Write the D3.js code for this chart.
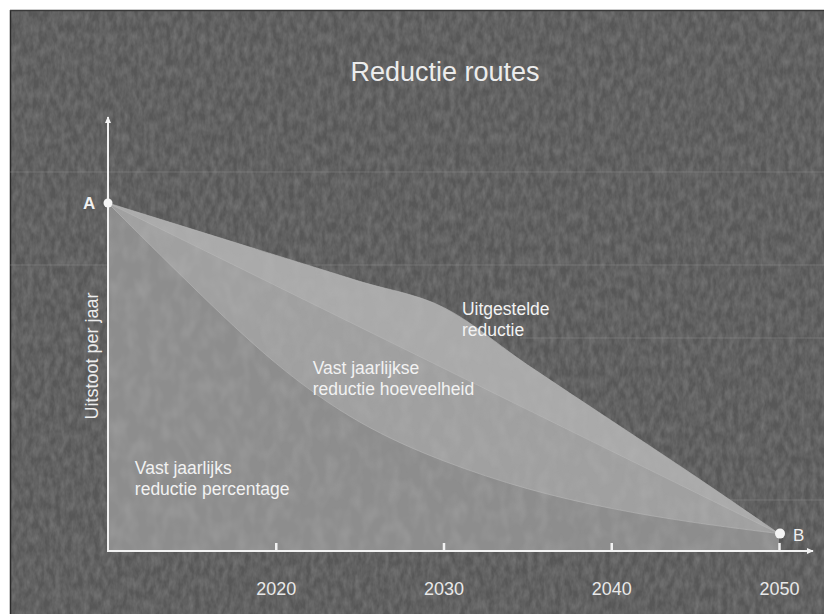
<!DOCTYPE html>
<html>
<head>
<meta charset="utf-8">
<script src="https://cdn.jsdelivr.net/npm/d3@7"></script>
<style>
  html, body { margin: 0; padding: 0; background: #ffffff; }
  svg { display: block; }
</style>
</head>
<body>
<svg id="chart" width="824" height="614"></svg>
<script>
// Emission reduction routes from point A (start) to point B (2050)
const title = "Reductie routes";
const yLabel = "Uitstoot per jaar";
const tickYears = [2020, 2030, 2040, 2050];

const years = [2010, 2015, 2020, 2025, 2030, 2035, 2040, 2045, 2050];
// Delayed reduction: slow at first, steep after 2030
const uitgesteld = [100, 92.5, 85, 77.5, 70, 53.5, 37.5, 21.5, 5];
// Fixed yearly amount: straight line from A to B
const lineairYears = [2010, 2050];
const lineair = [100, 5];
// Fixed yearly percentage: steep at first, flattening later
const percentage = [100, 76, 53, 36, 25.5, 17.5, 12, 8, 5];

const labels = [
  { lines: ["Uitgestelde", "reductie"], year: 2031.1, value: 67.8 },
  { lines: ["Vast jaarlijkse", "reductie hoeveelheid"], year: 2022.2, value: 50.8 },
  { lines: ["Vast jaarlijks", "reductie percentage"], year: 2011.6, value: 22 }
];

const svg = d3.select("#chart");
const W = 824, H = 614;
const FONT = "Liberation Sans, Arial, sans-serif";

const defs = svg.append("defs");

// grainy texture for the dark panel
const grain = defs.append("filter").attr("id", "grain")
  .attr("x", 0).attr("y", 0).attr("width", "100%").attr("height", "100%");
grain.append("feTurbulence").attr("type", "fractalNoise")
  .attr("baseFrequency", "0.18 0.09").attr("numOctaves", 3).attr("seed", 7)
  .attr("result", "noise");
grain.append("feColorMatrix").attr("in", "noise").attr("type", "matrix")
  .attr("values", "0 0 0 0 0.3  0 0 0 0 0.3  0 0 0 0 0.3  0 0 0 -1.4 1.05")
  .attr("result", "tex");
grain.append("feComposite").attr("in", "tex").attr("in2", "SourceGraphic").attr("operator", "in");

const softGrain = defs.append("filter").attr("id", "softgrain")
  .attr("x", 0).attr("y", 0).attr("width", "100%").attr("height", "100%");
softGrain.append("feTurbulence").attr("type", "fractalNoise")
  .attr("baseFrequency", "0.08 0.05").attr("numOctaves", 2).attr("seed", 3)
  .attr("result", "noise");
softGrain.append("feColorMatrix").attr("in", "noise").attr("type", "matrix")
  .attr("values", "0 0 0 0 0.5  0 0 0 0 0.5  0 0 0 0 0.5  0 0 0 -1.6 1.0")
  .attr("result", "tex");
softGrain.append("feComposite").attr("in", "tex").attr("in2", "SourceGraphic").attr("operator", "in");

// arrow heads for the axes
defs.append("marker").attr("id", "arrow")
  .attr("viewBox", "0 0 10 10").attr("refX", 8).attr("refY", 5)
  .attr("markerWidth", 4).attr("markerHeight", 4).attr("orient", "auto")
  .append("path").attr("d", "M0,1 L9,5 L0,9 Z").attr("fill", "#f2f2f2");

// panel
const panel = { x: 10, y: 10, w: W - 10, h: H - 10 };
svg.append("rect").attr("x", panel.x).attr("y", panel.y)
  .attr("width", panel.w).attr("height", panel.h).attr("fill", "#575757");
svg.append("rect").attr("x", panel.x).attr("y", panel.y)
  .attr("width", panel.w).attr("height", panel.h).attr("fill", "#575757")
  .attr("filter", "url(#grain)").attr("opacity", 0.5);
svg.append("line").attr("x1", panel.x + 0.5).attr("x2", panel.x + 0.5)
  .attr("y1", panel.y).attr("y2", H).attr("stroke", "#2a2a2a").attr("stroke-width", 1.5);
svg.append("line").attr("x1", panel.x).attr("x2", W)
  .attr("y1", panel.y + 0.5).attr("y2", panel.y + 0.5).attr("stroke", "#3a3a3a").attr("stroke-width", 1.5);

// faint horizontal streaks across the panel
[[172, 10, 824], [265, 10, 824], [338, 520, 824], [500, 600, 824]].forEach(([yy, x1, x2]) => {
  svg.append("line").attr("x1", x1).attr("x2", x2).attr("y1", yy).attr("y2", yy)
    .attr("stroke", "#9a9a9a").attr("stroke-width", 1).attr("opacity", 0.35);
});

const x = d3.scaleLinear().domain([2010, 2050]).range([108, 779]);
const y = d3.scaleLinear().domain([0, 100]).range([551, 203]);

const area = d3.area().x(d => x(d[0])).y0(y(0)).y1(d => y(d[1]));

const routes = [
  { data: years.map((yr, i) => [yr, uitgesteld[i]]), fill: "#aaaaaa", curve: d3.curveMonotoneX },
  { data: lineairYears.map((yr, i) => [yr, lineair[i]]), fill: "#a0a0a0", curve: d3.curveLinear },
  { data: years.map((yr, i) => [yr, percentage[i]]), fill: "#8d8d8d", curve: d3.curveBasis }
];

const gAreas = svg.append("g");
routes.forEach(r => {
  gAreas.append("path").attr("d", area.curve(r.curve)(r.data)).attr("fill", r.fill);
});
// subtle lighter edge along each route
routes.forEach(r => {
  const line = d3.line().x(d => x(d[0])).y(d => y(d[1])).curve(r.curve);
  gAreas.append("path").attr("d", line(r.data)).attr("fill", "none")
    .attr("stroke", "#b8b8b8").attr("stroke-width", 1).attr("opacity", 0.6);
});
// mottled texture over the filled areas
const clip = defs.append("clipPath").attr("id", "areaclip");
clip.append("path").attr("d", area.curve(d3.curveMonotoneX)(routes[0].data));
svg.append("rect").attr("x", 108).attr("y", 200).attr("width", 680).attr("height", 352)
  .attr("fill", "#888").attr("filter", "url(#softgrain)").attr("opacity", 0.3)
  .attr("clip-path", "url(#areaclip)");

// title
svg.append("text").attr("x", 445).attr("y", 81).attr("text-anchor", "middle")
  .attr("font-family", FONT).attr("font-size", 27)
  .attr("fill", "#ececec").text(title);

// axes
svg.append("line").attr("x1", x(2010)).attr("x2", x(2010)).attr("y1", y(0) + 1).attr("y2", 117)
  .attr("stroke", "#f2f2f2").attr("stroke-width", 2).attr("marker-end", "url(#arrow)");
svg.append("line").attr("x1", x(2010) - 1).attr("x2", 813).attr("y1", y(0)).attr("y2", y(0))
  .attr("stroke", "#f2f2f2").attr("stroke-width", 2).attr("marker-end", "url(#arrow)");

const xAxis = d3.axisBottom(x).tickValues(tickYears).tickFormat(d3.format("d"))
  .tickSizeInner(-8).tickSizeOuter(0).tickPadding(31);
const gx = svg.append("g").attr("transform", `translate(0,${y(0)})`).call(xAxis);
gx.select(".domain").remove();
gx.selectAll(".tick line").attr("stroke", "#f2f2f2").attr("stroke-width", 2.5);
gx.selectAll(".tick text").attr("fill", "#e8e8e8")
  .attr("font-family", FONT).attr("font-size", 18);

// y axis label
svg.append("text").attr("transform", `translate(98,356) rotate(-90)`)
  .attr("text-anchor", "middle")
  .attr("font-family", FONT).attr("font-size", 18)
  .attr("fill", "#ececec").text(yLabel);

// start and end points
svg.append("circle").attr("cx", x(2010)).attr("cy", y(lineair[0])).attr("r", 4.5).attr("fill", "#f4f4f4");
svg.append("circle").attr("cx", x(2050) + 1).attr("cy", y(lineair[1])).attr("r", 5).attr("fill", "#f4f4f4");
svg.append("text").attr("x", 83).attr("y", y(lineair[0]) + 6)
  .attr("font-family", FONT).attr("font-size", 17).attr("font-weight", "bold")
  .attr("fill", "#f0f0f0").text("A");
svg.append("text").attr("x", 793).attr("y", y(lineair[1]) + 7)
  .attr("font-family", FONT).attr("font-size", 17)
  .attr("fill", "#f0f0f0").text("B");

// route labels
labels.forEach(l => {
  const t = svg.append("text").attr("x", x(l.year)).attr("y", y(l.value))
    .attr("font-family", FONT).attr("font-size", 17.5)
    .attr("fill", "#f2f2f2");
  l.lines.forEach((s, i) => t.append("tspan").attr("x", x(l.year)).attr("dy", i ? 21 : 0).text(s));
});
</script>
</body>
</html>
